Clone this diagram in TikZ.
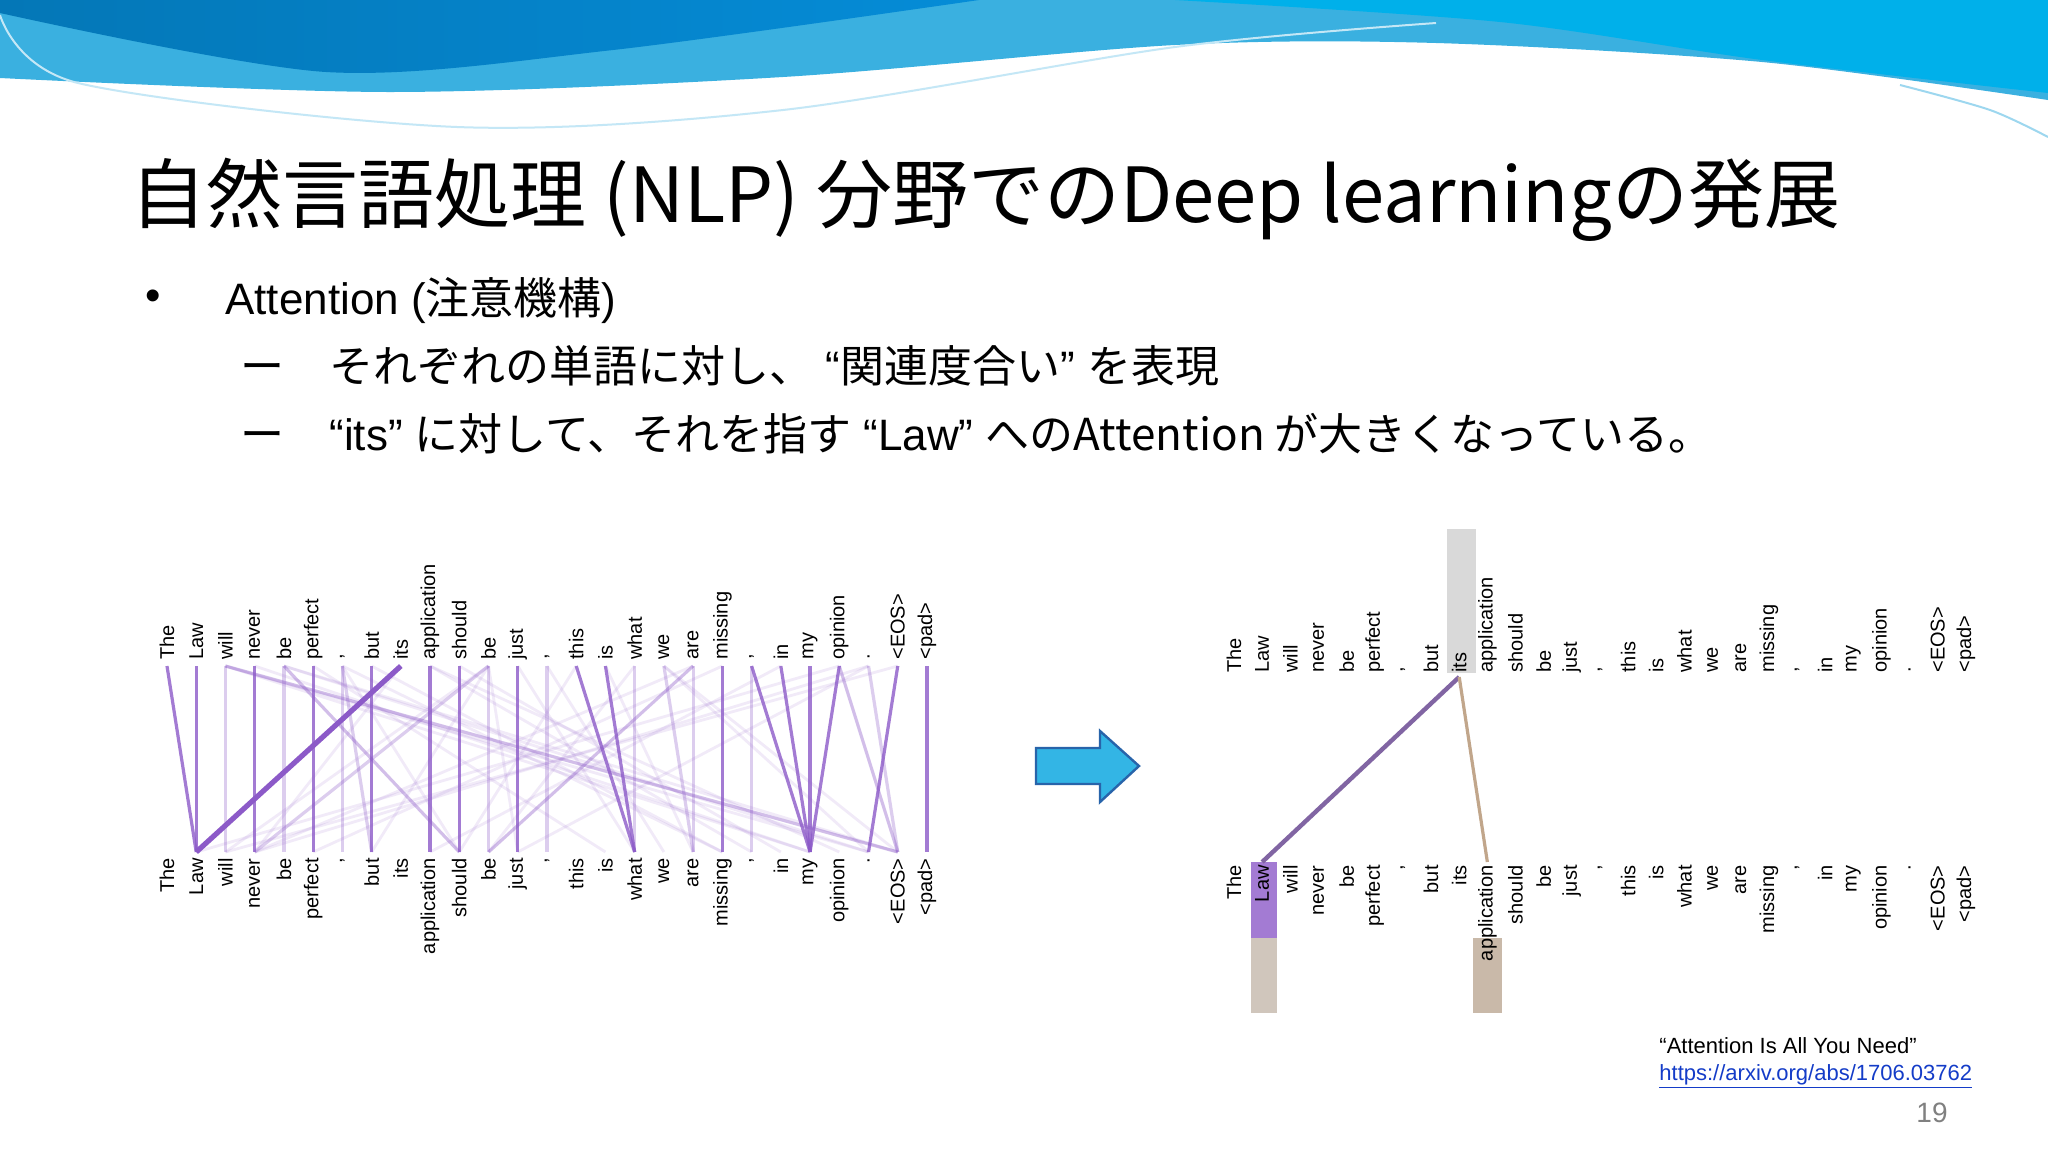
\documentclass[tikz,border=0pt]{standalone}
\usepackage{fontspec}
\setmainfont{Liberation Sans}
\newfontfamily\cjk{Noto Sans CJK JP}
\usetikzlibrary{calc}
\definecolor{attn}{RGB}{140,90,200}
\definecolor{arrowblue}{RGB}{51,181,229}
\definecolor{arrowedge}{RGB}{40,100,170}
\definecolor{linkblue}{RGB}{20,60,200}
\definecolor{bandblue}{RGB}{58,176,224}
\definecolor{darkblue}{RGB}{5,140,215}
\definecolor{cyanblue}{RGB}{0,176,234}
\tikzset{
  word/.style={font=\fontsize{10}{10}\selectfont, rotate=90, inner sep=0pt},
  topword/.style={word, anchor=west},
  botword/.style={word, anchor=east},
  ln/.style={draw=attn, line width=1.6pt},
}
\begin{document}
\begin{tikzpicture}[x=0.5pt,y=-0.5pt]
\useasboundingbox (0,0) rectangle (2048,1152);
\fill[white] (0,0) rectangle (2048,1152);
% header wave
\fill[bandblue] (0,0) -- plot[smooth] coordinates {(0,78) (392,92) (783,77) (1175,45) (1436,43) (1762,62) (2048,100)} -- (2048,0) -- cycle;
\fill[cyanblue] (1175,0) -- plot[smooth] coordinates {(1175,0) (1500,22) (1762,60) (2048,93)} -- (2048,0) -- cycle;
\shade[left color=darkblue!85!black, right color=darkblue] (0,0) -- plot[smooth] coordinates {(0,13) (326,72) (613,50) (979,0)} -- cycle;
\draw[white!70!bandblue, line width=1pt] plot[smooth] coordinates {(0,15) (78,83) (457,127) (783,110) (1175,47) (1436,23)};
\draw[white!50!bandblue, line width=1pt] plot[smooth] coordinates {(1900,85) (1990,110) (2048,137)};
% title
\node[anchor=base west, inner sep=0pt, font=\cjk\fontsize{38}{38}\selectfont] (title) at (130,222) {自然言語処理 (NLP) 分野でのDeep learningの発展};
% bullets
\node[anchor=base, inner sep=0pt, font=\fontsize{22}{22}\selectfont] (b0) at (153,310) {•};
\node[anchor=base west, inner sep=0pt, font=\fontsize{22}{22}\selectfont] (l1) at (225,314) {Attention ({\cjk 注意機構})};
\node[anchor=base west, inner sep=0pt, font=\cjk\fontsize{22}{22}\selectfont] (d1) at (240,382) {ー};
\node[anchor=base west, inner sep=0pt, font=\fontsize{22}{22}\selectfont] (l2) at (329,382) {{\cjk それぞれの単語に対し、} “{\cjk 関連度合い}” {\cjk を表現}};
\node[anchor=base west, inner sep=0pt, font=\cjk\fontsize{22}{22}\selectfont] (d2) at (240,450) {ー};
\node[anchor=base west, inner sep=0pt, font=\fontsize{22}{22}\selectfont] (l3) at (329,450) {“its” {\cjk に対して、それを指す} “Law” {\cjk へのAttention が大きくなっている。}};
% attention diagrams
\def\wordlist{The,Law,will,never,be,perfect,{,},but,its,application,should,be,just,{,},this,is,what,we,are,missing,{,},in,my,opinion,.,<EOS>,<pad>}
\foreach \w [count=\i] in \wordlist {
  \pgfmathsetmacro\xx{167+(\i-1)*29.23}
  \node[topword] (lt\i) at (\xx,660) {\w};
  \node[botword] (lb\i) at (\xx,858) {\w};
  \coordinate (lu\i) at (\xx,666);
  \coordinate (ld\i) at (\xx,852);
  \pgfmathsetmacro\xr{1234+(\i-1)*28.15}
  \coordinate (ru\i) at (\xr,677);
  \coordinate (rd\i) at (\xr,862);
}
% faint lines
\foreach \a/\b in {3/23,5/25,3/26,5/26,19/4,12/8,24/2,25/4,12/3,19/12,7/11,5/11,6/16,4/23,8/20,10/24,11/22,14/18,18/25,16/19,17/12,9/4,12/13,24/26,25/13,20/6,26/3,13/17,15/11,3/25,18/26,10/21,7/20,22/10}
  \draw[ln, line width=1.4pt, opacity=0.12] (lu\a) -- (ld\b);
% medium lines
\foreach \a/\b in {3/3,7/7,14/14,18/19,5/11,7/8,12/4,19/12,25/26,24/26,3/26,5/5,17/17,19/19,12/12,21/21}
  \draw[ln, opacity=0.3] (lu\a) -- (ld\b);
% strong lines
\foreach \a/\b in {1/2,2/2,4/4,6/6,8/8,10/10,11/11,13/13,20/20,27/27,16/17,15/17,22/23,23/23,21/23,26/25,24/23}
  \draw[ln, opacity=0.8] (lu\a) -- (ld\b);
\draw[ln, line width=2.6pt] (lu9) -- (ld2);
% arrow
\draw[fill=arrowblue, draw=arrowedge, line width=1.2pt] (1036,748) -- (1100,748) -- (1100,731) -- (1139,766) -- (1100,802) -- (1100,784) -- (1036,784) -- cycle;
% right diagram boxes
\fill[gray!30] (1447,529) rectangle (1476,673);
\fill[attn!80] (1251,862) rectangle (1277,938);
\fill[brown!35!gray!45] (1251,938) rectangle (1277,1013);
\fill[brown!45!gray!55] (1473,938) rectangle (1502,1013);
\foreach \w [count=\i] in \wordlist {
  \pgfmathsetmacro\xr{1234+(\i-1)*28.15}
  \node[topword] (rt\i) at (\xr,673) {\w};
  \node[botword] (rb\i) at (\xr,865) {\w};
}
\draw[draw=attn!70!black!80, line width=2.2pt] (ru9) -- (rd2);
\draw[draw=brown!60!gray!70, line width=1.6pt] (ru9) -- (rd10);
% reference
\node[anchor=base west, inner sep=0pt, font=\fontsize{11}{11}\selectfont] (ref) at (1659,1053) {“Attention Is All You Need”};
\node[anchor=base west, inner sep=0pt, text=linkblue, font=\fontsize{11}{11}\selectfont] (url) at (1659,1080) {\underline{https://arxiv.org/abs/1706.03762}};
\node[anchor=base east, inner sep=0pt, text=gray, font=\fontsize{14}{14}\selectfont] (pg) at (1948,1122) {19};
\end{tikzpicture}
\end{document}
